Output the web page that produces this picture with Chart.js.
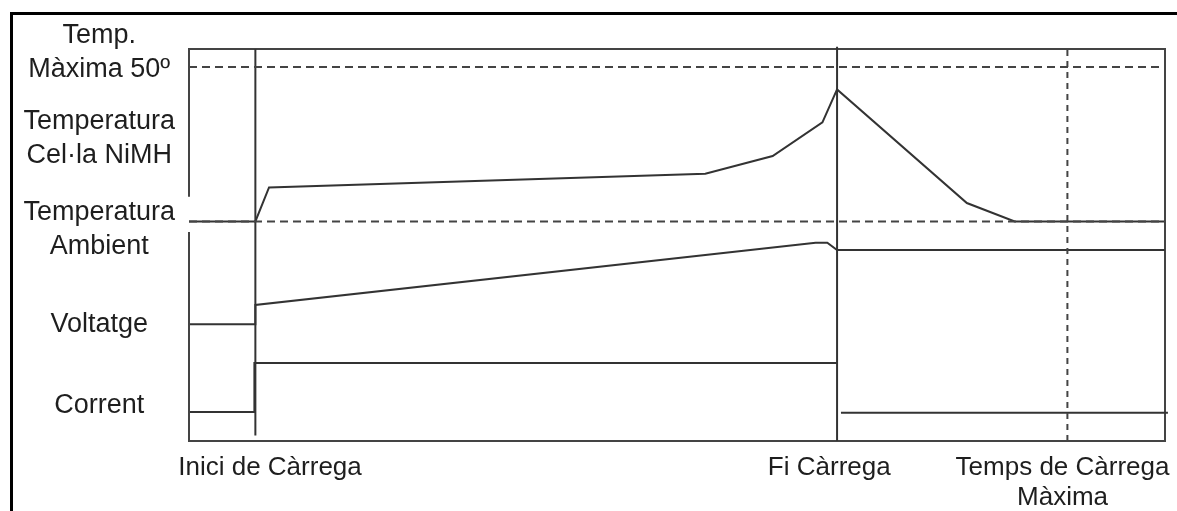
<!DOCTYPE html>
<html>
<head>
<meta charset="utf-8">
<script src="https://cdn.jsdelivr.net/npm/chart.js@4/dist/chart.umd.min.js"></script>
<style>
  body { margin: 0; background: #fff; }
  #wrap { position: relative; width: 1177px; height: 511px; overflow: hidden; }
  /* marc negre exterior (només esquerra i dalt) */
  #marc { position: absolute; left: 10px; top: 12px; right: -10px; bottom: -10px;
          border-left: 3px solid #000; border-top: 3px solid #000; }
  #grafic { position: absolute; left: 0; top: 0; }
</style>
</head>
<body>
<div id="wrap">
  <div id="marc"></div>
  <canvas id="grafic" width="1177" height="511"></canvas>
</div>
<script>
// Etiquetes dels eixos i on van
const xLabels = ['Inici de Càrrega', 'Fi Càrrega', ['Temps de Càrrega', 'Màxima']];
const xLabelPos = [8.3, 65.6, 89.5];
const yLabels = [['Temp.', 'Màxima 50º'], ['Temperatura', 'Cel·la NiMH'], ['Temperatura', 'Ambient'], 'Voltatge', 'Corrent'];
const yLabelPos = [99.2, 77.1, 53.9, 29.8, 9.1];

// Moments clau (eix x, 0-100)
const iniciX = 6.8;
const fiX = 66.4;
const tempsMaxX = 90;

// Nivells de referència (eix y, 0-100)
const tempMaxY = 95.4;
const ambientY = 56;

// Temperatura de la cel·la
const cellTempX = [0, 6.8, 8.2, 52.9, 59.8, 64.9, 66.4, 79.7, 84.6, 100];
const cellTempY = [56, 56, 64.7, 68.2, 72.7, 81.3, 89.7, 60.7, 56, 56];

// Voltatge
const voltX = [0, 6.8, 6.8, 64.2, 65.4, 66.4, 100];
const voltY = [29.8, 29.8, 34.7, 50.6, 50.6, 48.7, 48.7];

// Corrent (null = tall de la línia)
const currentX = [0, 6.7, 6.7, 66.4, 66.6, 66.8, 100.3];
const currentY = [7.4, 7.4, 19.9, 19.9, null, 7.2, 7.2];

// Costat esquerre del marc, amb el tall vora "Temperatura Ambient"
const leftFrameY = [0, 53.3, null, 62.3, 100];

const lineColor = '#333';
const frameColor = '#444';
const textColor = '#1e1e1e';

function toPoints(xs, ys) {
    return xs.map((x, i) => ({ x: x, y: ys[i] }));
}

function lineSet(data, extra) {
    return Object.assign({
        data: data,
        borderColor: lineColor,
        borderWidth: 2,
        pointRadius: 0,
        tension: 0,
        fill: false,
        clip: false
    }, extra || {});
}

const datasets = [
    // marc esquerre
    lineSet(leftFrameY.map(y => ({ x: 0, y: y })), { borderColor: frameColor }),
    // línies discontínues horitzontals
    lineSet([{ x: 0, y: tempMaxY }, { x: 100, y: tempMaxY }], { borderColor: frameColor, borderDash: [8, 5] }),
    lineSet([{ x: 0, y: ambientY }, { x: 100, y: ambientY }], { borderColor: frameColor, borderDash: [8, 5] }),
    // verticals
    lineSet([{ x: iniciX, y: 1.4 }, { x: iniciX, y: 100 }]),
    lineSet([{ x: fiX, y: 0 }, { x: fiX, y: 100.6 }]),
    lineSet([{ x: tempsMaxX, y: 0 }, { x: tempsMaxX, y: 100 }], { borderColor: frameColor, borderDash: [6, 5] }),
    // senyals
    lineSet(toPoints(cellTempX, cellTempY)),
    lineSet(toPoints(voltX, voltY)),
    lineSet(toPoints(currentX, currentY))
];

const family = "'Liberation Sans', Arial, sans-serif";

new Chart(document.getElementById('grafic'), {
    type: 'line',
    data: { datasets: datasets },
    options: {
        responsive: false,
        animation: false,
        devicePixelRatio: 1,
        layout: { padding: { left: 0, top: 49, right: 12, bottom: 0 } },
        plugins: { legend: { display: false }, tooltip: { enabled: false } },
        scales: {
            x: {
                type: 'linear', position: 'bottom', min: 0, max: 100,
                grid: { display: false, drawTicks: false },
                border: { display: true, color: frameColor, width: 2 },
                afterBuildTicks: s => { s.ticks = xLabelPos.map(v => ({ value: v })); },
                afterFit: s => { s.height = 70; s.paddingLeft = 0; s.paddingRight = 0; },
                ticks: {
                    autoSkip: false, maxRotation: 0, minRotation: 0, padding: 12,
                    color: textColor, font: { family: family, size: 26, lineHeight: 1.15 },
                    callback: (v, i) => xLabels[i]
                }
            },
            y: {
                type: 'linear', position: 'left', min: 0, max: 100,
                grid: { display: false, drawTicks: false },
                border: { display: false },
                afterBuildTicks: s => { s.ticks = yLabelPos.map(v => ({ value: v })); },
                afterFit: s => { s.width = 189; s.paddingTop = 0; s.paddingBottom = 0; },
                ticks: {
                    autoSkip: false, crossAlign: 'center', padding: 14,
                    color: textColor, font: { family: family, size: 27, lineHeight: 1.26 },
                    callback: (v, i) => yLabels[i]
                }
            },
            xTop: {
                type: 'linear', position: 'top', min: 0, max: 100,
                grid: { display: false, drawTicks: false },
                border: { display: true, color: frameColor, width: 2 },
                ticks: { display: false },
                afterFit: s => { s.height = 0; s.paddingLeft = 0; s.paddingRight = 0; }
            },
            yRight: {
                type: 'linear', position: 'right', min: 0, max: 100,
                grid: { display: false, drawTicks: false },
                border: { display: true, color: frameColor, width: 2 },
                ticks: { display: false },
                afterFit: s => { s.width = 0; s.paddingTop = 0; s.paddingBottom = 0; }
            }
        }
    }
});
</script>
</body>
</html>
